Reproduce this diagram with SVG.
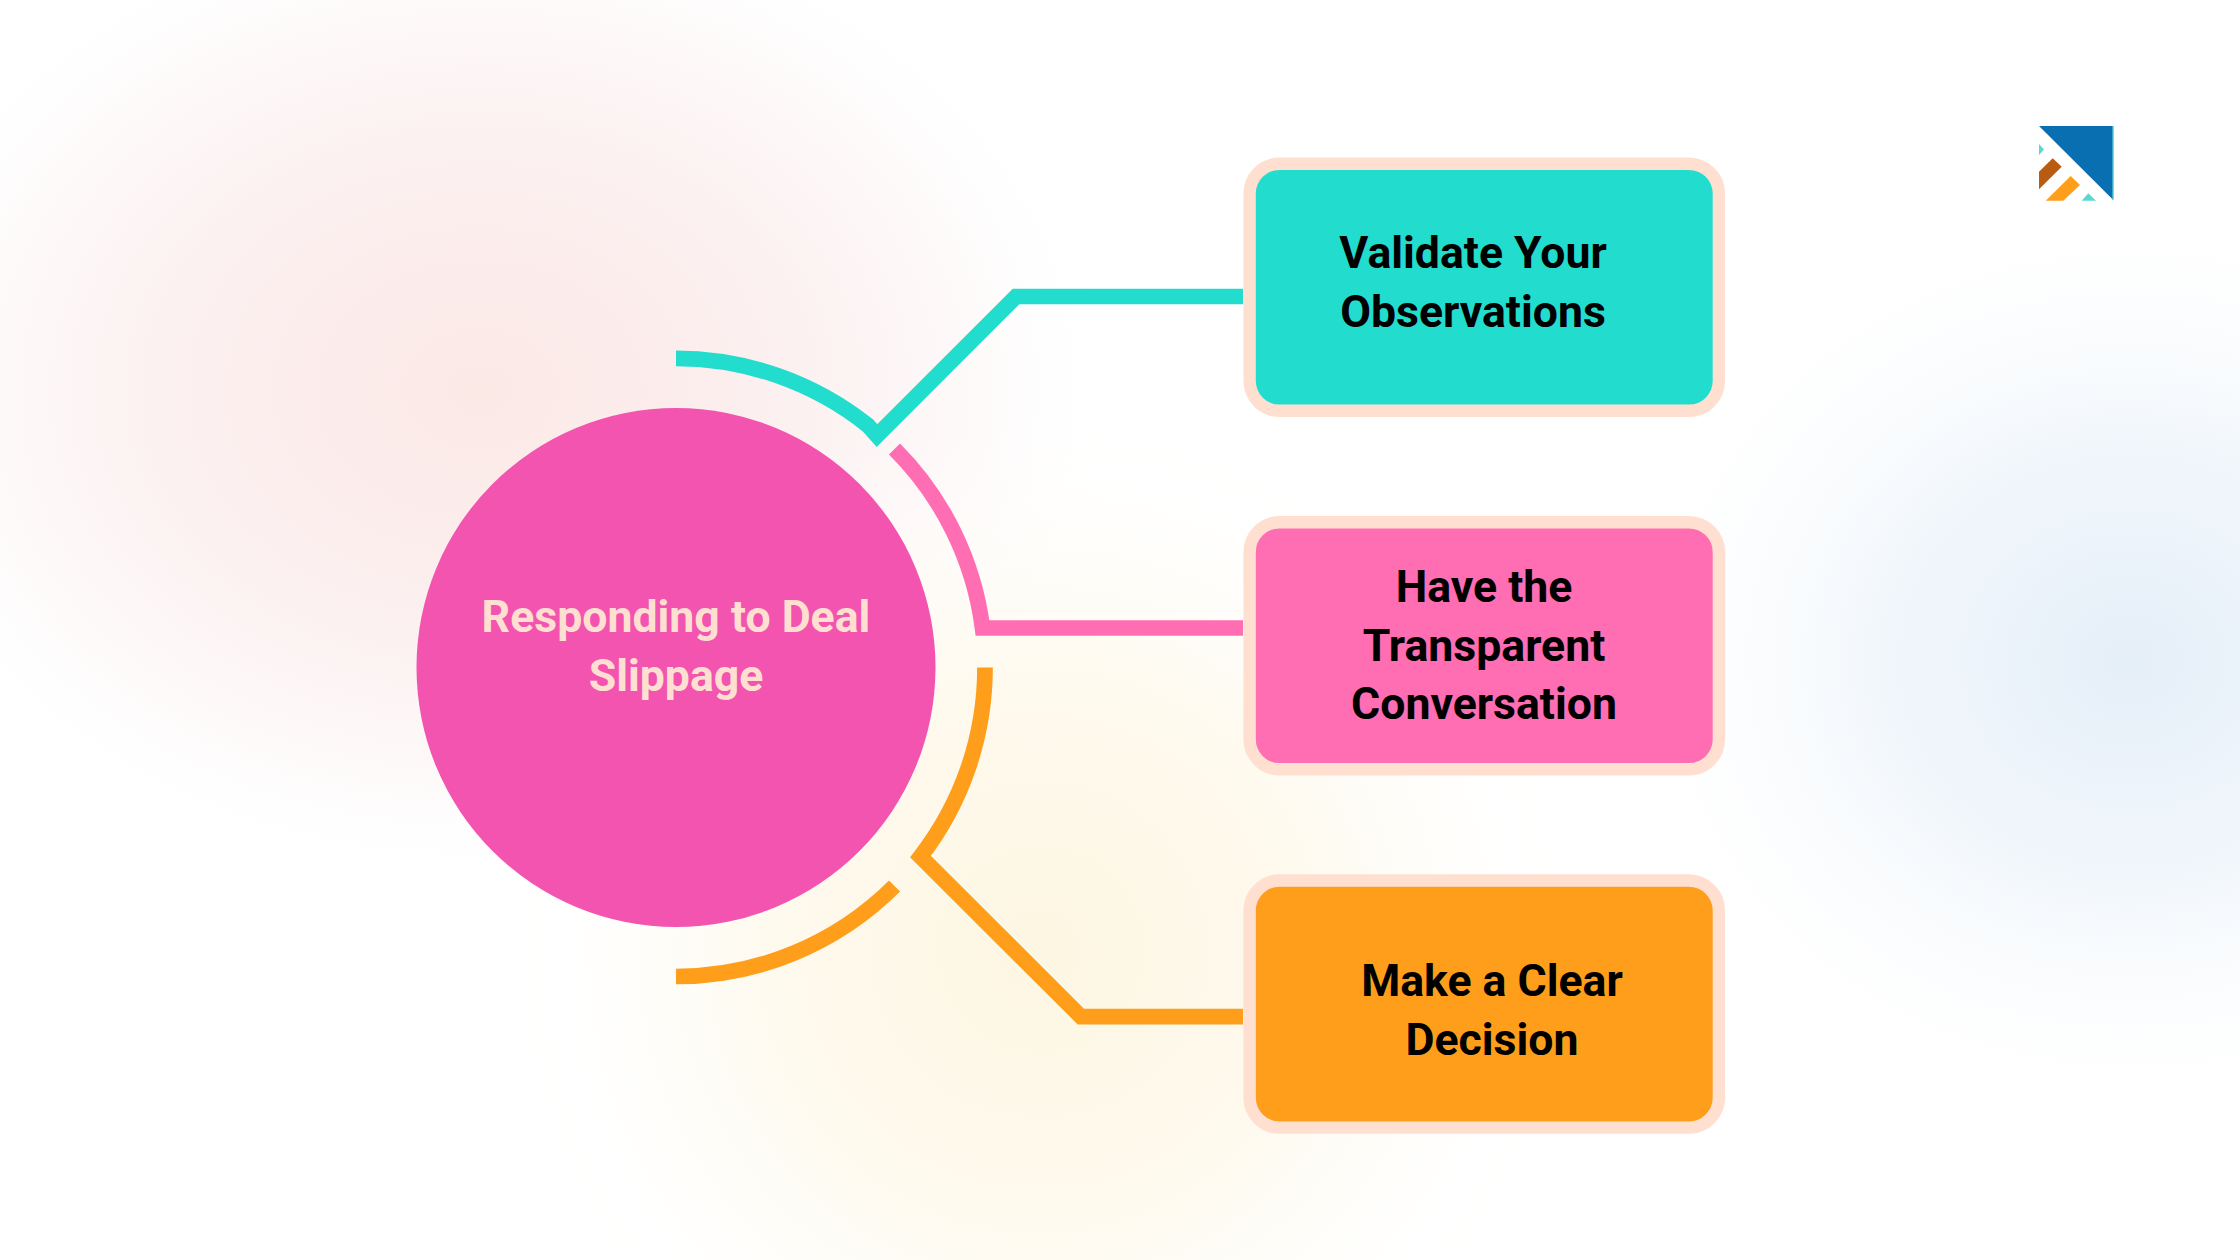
<svg xmlns="http://www.w3.org/2000/svg" width="2240" height="1260" viewBox="0 0 2240 1260">
<style>
.conn{fill:none;stroke-width:15.7;stroke-linejoin:miter;stroke-miterlimit:10}
.box{stroke:#FFE0D0;stroke-width:12.4}
.t{font-family:Roboto,"Noto Sans","Liberation Sans",sans-serif;font-weight:700;font-size:44.6px;text-anchor:middle;fill:#000}
.c{font-family:Roboto,"Noto Sans","Liberation Sans",sans-serif;font-weight:700;font-size:44.6px;text-anchor:middle;fill:#FFE0D0}
</style>
<defs>
<radialGradient id="gp"><stop offset="0" stop-color="#FBE9E6"/><stop offset="0.45" stop-color="#FBECEC" stop-opacity="0.85"/><stop offset="0.75" stop-color="#FCF3F3" stop-opacity="0.55"/><stop offset="1" stop-color="#fff" stop-opacity="0"/></radialGradient>
<radialGradient id="gb"><stop offset="0" stop-color="#E5EFF8"/><stop offset="0.45" stop-color="#EFF5FB" stop-opacity="0.9"/><stop offset="1" stop-color="#fff" stop-opacity="0"/></radialGradient>
<radialGradient id="gy"><stop offset="0" stop-color="#FDF6E2"/><stop offset="0.5" stop-color="#FEF9EC" stop-opacity="0.9"/><stop offset="1" stop-color="#fff" stop-opacity="0"/></radialGradient>
</defs>
<rect width="2240" height="1260" fill="#fff"/>
<ellipse cx="480" cy="390" rx="640" ry="500" fill="url(#gp)"/>
<ellipse cx="2130" cy="660" rx="530" ry="470" fill="url(#gb)"/>
<ellipse cx="1040" cy="950" rx="540" ry="540" fill="url(#gy)"/>
<g id="connectors">
<path class="conn" stroke="#22DCCE" d="M676 358.3A309 309 0 0 1 868 425.5L877 435.5L1016 296.5H1243"/>
<path class="conn" stroke="#FF6DB2" d="M894.5 449A309 309 0 0 1 982.5 628H1243"/>
<path class="conn" stroke="#FF9E1B" d="M985 667.5A309 309 0 0 1 920.5 856.5L1081 1016.7H1243"/>
<path class="conn" stroke="#FF9E1B" d="M894.5 886A309 309 0 0 1 676 976.5"/>
</g>
<g id="center"><circle cx="676" cy="667.5" r="259.5" fill="#F254B0"/>
<text class="c" x="676" y="632">Responding to Deal</text>
<text class="c" x="676" y="691">Slippage</text></g>
<g id="box1"><rect class="box" x="1249.6" y="163.7" width="469.3" height="247.1" rx="30" fill="#22DCCE"/>
<text class="t" x="1473" y="268.3">Validate Your</text><text class="t" x="1473" y="327">Observations</text></g>
<g id="box2"><rect class="box" x="1249.6" y="522.2" width="469.3" height="247.1" rx="30" fill="#FF6DB2"/>
<text class="t" x="1484" y="601.7">Have the</text><text class="t" x="1484" y="660.5">Transparent</text><text class="t" x="1484" y="719.3">Conversation</text></g>
<g id="box3"><rect class="box" x="1249.6" y="880.5" width="469.3" height="247.1" rx="30" fill="#FF9E1B"/>
<text class="t" x="1492" y="996">Make a Clear</text><text class="t" x="1492" y="1055">Decision</text></g>
<g id="logo"><polygon points="2039,126 2113.3,126 2113.3,200" fill="#0A6FB0"/>
<rect x="2112.4" y="126" width="1" height="74" fill="#5AD8D0"/>
<polygon points="2039,144 2044,149.5 2039,155" fill="#5AD8D0"/>
<polygon points="2039,171.7 2052.7,158.3 2061.7,166.7 2039,189.3" fill="#B85C14"/>
<polygon points="2045.7,200.7 2070.7,176 2080,185 2063.3,200.7" fill="#FF9E1B"/>
<polygon points="2081.7,200.7 2088.3,193.3 2096,200.7" fill="#5AD8D0"/></g>
</svg>
